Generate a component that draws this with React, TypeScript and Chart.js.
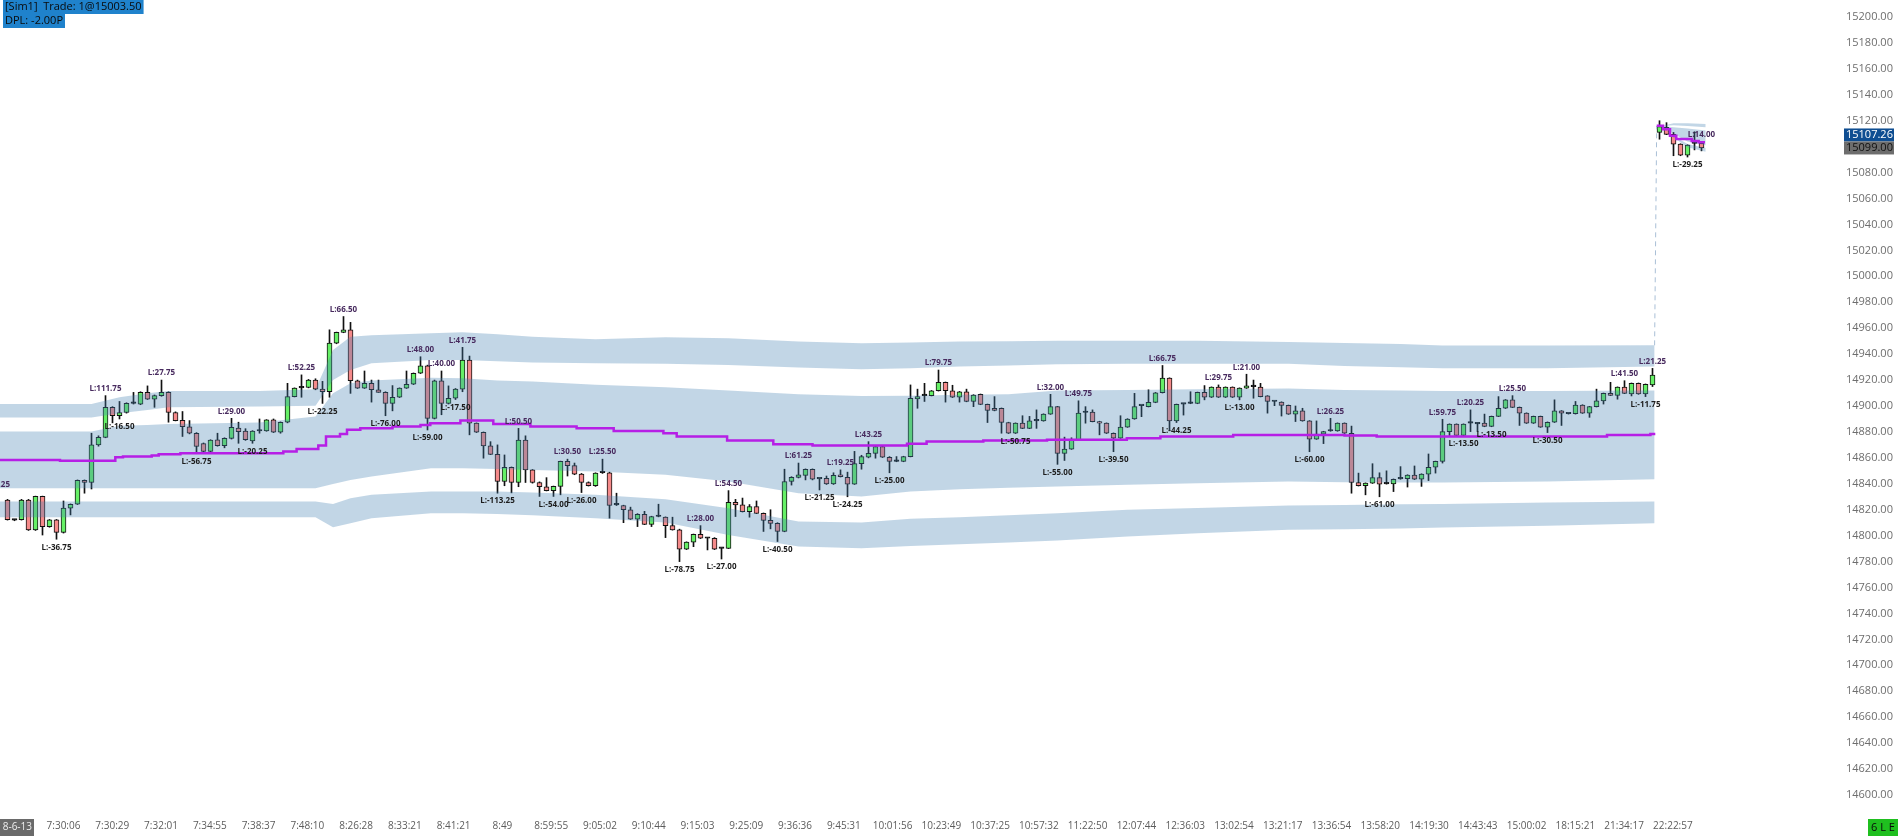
import React, { useEffect, useRef } from "react";
import { Chart, registerables } from "chart.js";
Chart.register(...registerables);

// ---------- candles (index 0..242) ----------
const OPEN = [
  14827.5, 14812, 14812.25, 14827.5, 14804.5, 14830.25, 14807, 14812.25, 14802.5, 14821.25,
  14824.25, 14842.75, 14841, 14870, 14875.75, 14899, 14892.5, 14895, 14902, 14901.5,
  14910.5, 14905.25, 14908, 14910.5, 14895, 14889, 14884, 14879, 14871, 14865,
  14874, 14869.5, 14875, 14883, 14880.75, 14873, 14880.75, 14880.75, 14889.25, 14879.75,
  14887.5, 14907.25, 14914, 14914.25, 14920, 14913, 14911, 14948.5, 14956.75, 14958.75,
  14919.5, 14913.75, 14917.5, 14912.5, 14910.5, 14902, 14906.75, 14913.75, 14916.75, 14925.25,
  14931, 14890.5, 14919.5, 14902, 14906, 14913, 14935.5, 14886.75, 14879.75, 14869.25,
  14862.75, 14841.75, 14852.75, 14841, 14873.75, 14850.75, 14841, 14837.75, 14834.75, 14838,
  14857.25, 14854, 14847.5, 14841, 14838.5, 14848.5, 14848.5, 14823.75, 14823.25, 14820,
  14812.75, 14816.5, 14808.75, 14814.75, 14814.25, 14807.75, 14804.5, 14789.5, 14795, 14801,
  14798, 14798, 14790.25, 14790.25, 14825.75, 14823.75, 14818.5, 14822.5, 14817.25, 14811.75,
  14809.5, 14803.25, 14841.75, 14845, 14846.5, 14851.25, 14843.75, 14844.25, 14840, 14847,
  14845, 14839.75, 14855.5, 14860.5, 14863.5, 14868.75, 14860.5, 14857.25, 14857.25, 14861,
  14905.5, 14908, 14908, 14911.75, 14918.25, 14911.75, 14906.75, 14911, 14903.5, 14909,
  14901.25, 14898.25, 14898.25, 14887.25, 14879, 14886.75, 14882.75, 14888.5, 14888.5, 14893.75,
  14899.5, 14863.5, 14866.75, 14873.75, 14895, 14895.25, 14888, 14886.75, 14879, 14875.25,
  14883.75, 14890, 14900.25, 14899.5, 14902.75, 14910.25, 14921.5, 14888.5, 14901.5, 14902,
  14902, 14910.5, 14906.75, 14914.5, 14906.75, 14914.5, 14906.75, 14913.75, 14915, 14914.5,
  14907.75, 14903.5, 14903, 14900.5, 14893.75, 14896.25, 14888.5, 14874.5, 14878.25, 14880.75,
  14880.75, 14886.75, 14879, 14841, 14838.5, 14840.5, 14844.75, 14840, 14840, 14843.75,
  14844, 14846.75, 14843.5, 14847.5, 14852.75, 14857.25, 14880.25, 14886, 14877.25, 14886.75,
  14886.25, 14886.75, 14884.25, 14892, 14898.25, 14904.75, 14899, 14894.5, 14886.75, 14892,
  14883.75, 14887.5, 14896.25, 14894, 14894, 14900.75, 14894.5, 14899.5, 14904, 14909.75,
  14908.25, 14914.5, 14909.25, 14917.5, 14909.25, 14916.25, 15111, 15115, 15109.5, 15102,
  15093.5, 15102.5, 15102.5,
];
const HIGH = [
  14828, 14812.5, 14828, 14828, 14830.5, 14830.5, 14812.5, 14812.5, 14826.75, 14824.5,
  14843, 14843, 14879, 14877, 14908, 14899.5, 14903.5, 14902.5, 14910.5, 14911,
  14915.5, 14908.5, 14920, 14911, 14895.5, 14895.75, 14888.75, 14879.5, 14871.5, 14874,
  14879, 14875.5, 14890.5, 14887.5, 14882.5, 14881, 14890, 14889.5, 14890, 14887.75,
  14917.5, 14914, 14924, 14920.5, 14921, 14919, 14958.75, 14957, 14969, 14964.5,
  14920, 14927, 14920, 14920, 14911, 14915.75, 14914, 14927, 14925.5, 14938,
  14931.5, 14920, 14927, 14915.5, 14913.5, 14945.25, 14938.5, 14887, 14880, 14872.5,
  14870, 14862.25, 14853, 14882.75, 14877, 14851, 14841.5, 14844.75, 14838.25, 14857.5,
  14859, 14856, 14848, 14841.5, 14848.5, 14859, 14849, 14832.75, 14823.5, 14822,
  14817, 14818.75, 14815, 14824.25, 14814.5, 14814.25, 14805, 14795.25, 14801.25, 14807.75,
  14798.5, 14798.5, 14790.5, 14834.75, 14828, 14829, 14824, 14826.75, 14817.5, 14820,
  14810, 14851.25, 14845.5, 14856, 14851.5, 14851.5, 14844, 14846, 14848.5, 14850.75,
  14849, 14865, 14862, 14872.5, 14869, 14869, 14861, 14861, 14861.25, 14916.25,
  14913, 14917.5, 14912, 14927.75, 14918.5, 14916, 14911.25, 14913, 14908.75, 14909.25,
  14901.5, 14907.25, 14898.5, 14887.5, 14887, 14892.5, 14892, 14897, 14894, 14909,
  14899.75, 14876, 14875.5, 14904, 14899.5, 14897, 14888.25, 14887, 14879.25, 14892.5,
  14890.25, 14909.75, 14900.5, 14912.5, 14910.5, 14931.25, 14921.75, 14901.5, 14901.75, 14911,
  14910.75, 14915.75, 14914.75, 14916.25, 14914.75, 14914.75, 14914, 14924.5, 14920, 14917.5,
  14908, 14903.75, 14903.25, 14900.75, 14900, 14898.25, 14888.75, 14888.5, 14880.5, 14890.5,
  14887, 14887, 14884.5, 14848.25, 14840.75, 14855.5, 14848.5, 14850, 14843.75, 14853.25,
  14847, 14853.75, 14847.75, 14863, 14857.5, 14889.75, 14886.25, 14886.25, 14886.25, 14897,
  14887, 14893.75, 14892.25, 14907.25, 14905, 14908, 14899.25, 14894.75, 14892.25, 14892.25,
  14887.75, 14904.75, 14896.5, 14894.25, 14903.5, 14901, 14899.75, 14913, 14910, 14918.25,
  14914.75, 14919.5, 14917.75, 14917.75, 14917, 14929, 15120, 15118.5, 15111, 15102.25,
  15101.5, 15111.5, 15103.5,
];
const LOW = [
  14812, 14811.5, 14812, 14804, 14804, 14800.5, 14806.5, 14797.25, 14802, 14816,
  14824, 14832.75, 14836, 14869, 14875.5, 14887, 14890, 14894.5, 14901.5, 14901,
  14905, 14899, 14907.5, 14887.5, 14888.5, 14876.5, 14878.5, 14863.5, 14864.5, 14864.5,
  14869, 14867.75, 14874.5, 14871.25, 14873.5, 14871.25, 14879, 14880.5, 14879.5, 14879,
  14887, 14907, 14906.75, 14914, 14912.5, 14902, 14906.75, 14948, 14956.5, 14909.75,
  14913.5, 14913.5, 14903, 14910.5, 14892.5, 14896.25, 14906.5, 14913.5, 14916.5, 14925,
  14881.5, 14890, 14893.25, 14901.5, 14905, 14911, 14877.75, 14879.5, 14859.75, 14862.5,
  14832.75, 14838.5, 14833, 14837.75, 14841, 14840.5, 14830.25, 14834.5, 14830.25, 14831.5,
  14846, 14847, 14833.25, 14838.25, 14838, 14848, 14813.5, 14823.25, 14810, 14812.5,
  14807, 14808.5, 14807, 14814.5, 14798.5, 14804.25, 14780, 14789.25, 14791.5, 14797.75,
  14789, 14789.25, 14782, 14790, 14814.75, 14818.25, 14814.25, 14817, 14803.25, 14805.25,
  14795.5, 14803, 14839, 14844.5, 14843, 14843, 14835.25, 14839.5, 14839.5, 14845.25,
  14830, 14839.5, 14851.25, 14860, 14859.75, 14860.25, 14848.5, 14857, 14857, 14860.75,
  14898.25, 14903.5, 14907.75, 14911.5, 14903, 14906.5, 14903, 14903.25, 14899.5, 14901,
  14887.25, 14896.25, 14879, 14878.75, 14878.75, 14882.5, 14882.5, 14882.75, 14888.25, 14893.5,
  14855, 14858, 14866.5, 14873.5, 14886.75, 14887.75, 14877.75, 14878.75, 14864.75, 14875,
  14883.5, 14889.75, 14891.75, 14899.25, 14902.5, 14910, 14881.5, 14887.25, 14893, 14901.75,
  14901.75, 14904.75, 14906.5, 14906.5, 14906.5, 14906.5, 14904.75, 14913.5, 14906, 14907,
  14894.5, 14900.25, 14892.25, 14893.5, 14888, 14888.25, 14864.75, 14874.25, 14871, 14880.5,
  14880.5, 14878.75, 14832.75, 14838.25, 14831.5, 14840.25, 14830, 14839.75, 14834, 14843.5,
  14837.5, 14843.25, 14838, 14842.5, 14848.25, 14856, 14877, 14877, 14877, 14880.25,
  14880.25, 14884, 14884, 14891.75, 14898, 14898.75, 14885, 14886.5, 14886.5, 14883.5,
  14879.5, 14887.25, 14885, 14893.75, 14893.75, 14894.25, 14891.25, 14899.25, 14901.5, 14908,
  14905.25, 14909.5, 14907.75, 14909, 14907.25, 14915, 15105.75, 15109.25, 15093, 15093,
  15092, 15097.5, 15096.75,
];
const CLOSE = [
  14812.25, 14812, 14827.5, 14804.5, 14830.25, 14807, 14812.25, 14802.5, 14821.25, 14824.25,
  14842.75, 14841, 14870, 14875.75, 14899, 14892.5, 14895, 14902, 14902, 14910.5,
  14905.25, 14908, 14910.5, 14895, 14888.75, 14884, 14879, 14868.75, 14865, 14873.75,
  14869.5, 14875, 14883.5, 14880.25, 14874, 14880.75, 14880.75, 14889.25, 14879.75, 14887.5,
  14907.25, 14913.75, 14914, 14920, 14913, 14911, 14948.5, 14956.75, 14958.75, 14919.5,
  14913.75, 14917.5, 14912.5, 14910.5, 14902, 14906.75, 14913.75, 14916.75, 14925.25, 14931,
  14890.5, 14919.5, 14902, 14906, 14913, 14935.5, 14886.75, 14879.75, 14869.25, 14862.75,
  14841.75, 14852.75, 14841, 14873.75, 14850.75, 14841, 14837.75, 14834.75, 14838, 14857.25,
  14854, 14847.5, 14841, 14838.5, 14848.25, 14848.5, 14823.25, 14823.75, 14820, 14812.75,
  14816.5, 14808.75, 14814.75, 14814.75, 14807.75, 14804.5, 14789.5, 14795, 14801, 14798,
  14798, 14789.5, 14790.25, 14825.75, 14823.75, 14818.5, 14822.5, 14817.25, 14811.75, 14809.5,
  14803.25, 14841.75, 14845, 14847, 14851.25, 14843.5, 14843.75, 14840, 14846.5, 14845.5,
  14839.75, 14855.5, 14861, 14863.5, 14868.75, 14860.5, 14857.25, 14857.25, 14861, 14906,
  14907.25, 14908, 14911.75, 14918.25, 14911.75, 14906.75, 14911, 14903.5, 14908.5, 14901.25,
  14896.5, 14896.5, 14887.25, 14879, 14886.75, 14882.75, 14888.5, 14888.5, 14893.75, 14899.5,
  14863.5, 14866.75, 14873.75, 14894.5, 14895, 14888, 14886.75, 14879, 14875.25, 14883.75,
  14890, 14899.5, 14900.25, 14902.75, 14910.25, 14921.5, 14888.5, 14901.25, 14901.5, 14902,
  14910.5, 14906.75, 14914.5, 14906.75, 14914.5, 14906.75, 14913.75, 14915.5, 14915, 14907.25,
  14903.5, 14903.5, 14900.5, 14893.75, 14896.25, 14888.5, 14874.5, 14878.25, 14880.25, 14880.75,
  14886.75, 14879, 14841, 14838.5, 14840.5, 14844.75, 14839.75, 14840, 14843.5, 14843.75,
  14846.75, 14843.5, 14847.5, 14852.75, 14857.25, 14880.25, 14886, 14877.25, 14886, 14886.75,
  14886.25, 14884.25, 14892, 14898.25, 14904.75, 14899, 14894.5, 14886.75, 14892, 14883.75,
  14887.5, 14896.25, 14894.5, 14894, 14900.75, 14894.5, 14899.5, 14904, 14909.75, 14908.25,
  14914.5, 14909.75, 14917.5, 14909.25, 14916.75, 14923.75, 15115.5, 15109.5, 15102, 15093.5,
  15101.25, 15102.5, 15099,
];

// ---------- channel bands ----------
const BAND_X = [-1.1, 12, 16, 20, 23, 36, 44, 46.5, 49, 52, 60.5, 65, 70, 75, 84, 94, 103, 113, 122, 129, 136, 143, 150, 160, 170, 183, 191, 199, 205, 220, 235.3];
const UPPER_TOP = [14901.6, 14901.6, 14906.8, 14909.8, 14911.6, 14911.6, 14912.9, 14943.2, 14953.5, 14954.6, 14956.1, 14956.9, 14955.3, 14953.5, 14951.5, 14953.0, 14952.2, 14949.7, 14948.4, 14948.9, 14949.7, 14949.9, 14950.4, 14950.4, 14950.4, 14949.4, 14948.6, 14947.9, 14946.6, 14946.6, 14946.8];
const UPPER_BOT = [14891.1, 14891.1, 14894.4, 14897.0, 14899.0, 14899.6, 14900.1, 14920.1, 14927.8, 14933.0, 14935.5, 14935.5, 14934.5, 14933.5, 14933.0, 14932.5, 14931.7, 14929.6, 14928.3, 14929.1, 14930.4, 14931.2, 14932.2, 14932.5, 14932.5, 14932.5, 14930.9, 14929.9, 14929.1, 14929.1, 14930.4];
const MID_TOP = [14880.3, 14880.3, 14884.7, 14885.4, 14886.2, 14887.2, 14891.9, 14909.8, 14917.5, 14919.6, 14921.7, 14921.4, 14919.6, 14918.8, 14916.3, 14914.5, 14911.9, 14909.1, 14907.8, 14908.0, 14908.6, 14909.1, 14911.9, 14912.4, 14912.9, 14913.4, 14912.4, 14911.9, 14911.6, 14911.6, 14911.9];
const MID_BOT = [14836.6, 14836.6, 14836.6, 14836.6, 14836.6, 14836.6, 14836.6, 14839.9, 14843.0, 14845.6, 14852.0, 14852.0, 14851.5, 14850.7, 14849.4, 14846.9, 14841.7, 14832.7, 14830.2, 14834.0, 14835.8, 14836.9, 14837.9, 14839.2, 14840.5, 14841.7, 14841.2, 14841.0, 14841.0, 14841.7, 14843.5];
const LOWER_TOP = [14826.3, 14826.3, 14826.3, 14826.3, 14826.3, 14826.3, 14826.3, 14824.5, 14828.9, 14831.5, 14834.0, 14834.0, 14834.0, 14833.3, 14831.5, 14828.1, 14821.2, 14810.9, 14810.1, 14813.0, 14814.2, 14815.8, 14817.3, 14819.9, 14821.4, 14823.2, 14823.7, 14824.3, 14824.5, 14825.5, 14826.3];
const LOWER_BOT = [14814.2, 14814.2, 14814.2, 14814.2, 14814.2, 14814.2, 14814.2, 14806.5, 14809.6, 14813.5, 14817.3, 14817.3, 14816.8, 14815.8, 14813.5, 14810.1, 14800.6, 14791.6, 14790.3, 14792.1, 14793.4, 14794.7, 14796.2, 14799.3, 14801.9, 14804.5, 14805.0, 14805.5, 14806.3, 14807.6, 14809.6];

const TAIL_X = [236.3, 238, 240, 242.6];
const TAIL_UPPER_TOP = [15116, 15118, 15118, 15117.5];
const TAIL_UPPER_BOT = [15116, 15116.5, 15116, 15115];
const TAIL_MID_TOP = [15116, 15115, 15114, 15112.5];
const TAIL_MID_BOT = [15116, 15110, 15104, 15101];
const TAIL_LOWER_TOP = [15116, 15108.5, 15102, 15099];
const TAIL_LOWER_BOT = [15116, 15107, 15099.5, 15096];

const JUMP_X = [235.3, 235.6];
const JUMP_Y = [14946.8, 15116];

// ---------- VWAP (magenta) ----------
const VWAP_X = [-1.1, 7.5, 15.4, 16.5, 20.6, 21.6, 24.7, 39.4, 41.3, 44.4, 45.5, 47.5, 48.5, 50.4, 55, 59, 60.4, 64.7, 69.4, 74.7, 81.3, 86.6, 93.7, 95.6, 102.8, 109.4, 115, 128.5, 131.3, 139.4, 148.5, 159.9, 164.7, 175.1, 191, 195.6, 228.5, 234.7, 235.4];
const VWAP_Y = [14858.4, 14857.7, 14860.5, 14861.0, 14861.8, 14862.8, 14863.6, 14864.9, 14866.9, 14869.5, 14876.4, 14878.5, 14881.6, 14882.9, 14884.1, 14885.4, 14886.7, 14888.8, 14886.2, 14884.1, 14882.9, 14880.8, 14879.0, 14876.4, 14873.3, 14870.5, 14869.5, 14870.8, 14872.6, 14873.3, 14873.9, 14875.1, 14876.4, 14877.7, 14877.2, 14876.4, 14877.7, 14878.5, 14878.5];
const TAIL_VWAP_X = [235.6, 236.5, 237.5, 238.4, 240.6, 241.6, 242.5];
const TAIL_VWAP_Y = [15116.2, 15113.4, 15108.5, 15105.9, 15104.4, 15103.4, 15103.4];

// ---------- trade labels ----------
const TOP_LABELS: [number, string][] = [
  [14, "L:111.75"], [22, "L:27.75"], [32, "L:29.00"], [42, "L:52.25"], [48, "L:66.50"], [59, "L:48.00"],
  [62, "L:40.00"], [65, "L:41.75"], [73, "L:50.50"], [80, "L:30.50"], [85, "L:25.50"], [99, "L:28.00"],
  [103, "L:54.50"], [113, "L:61.25"], [119, "L:19.25"], [123, "L:43.25"], [133, "L:79.75"], [149, "L:32.00"],
  [153, "L:49.75"], [165, "L:66.75"], [173, "L:29.75"], [177, "L:21.00"], [189, "L:26.25"], [205, "L:59.75"],
  [209, "L:20.25"], [215, "L:25.50"], [231, "L:41.50"], [235, "L:21.25"], [242, "L:14.00"],
];
const BOTTOM_LABELS: [number, string][] = [
  [7, "L:-36.75"], [16, "L:-16.50"], [27, "L:-56.75"], [35, "L:-20.25"], [45, "L:-22.25"], [54, "L:-76.00"],
  [60, "L:-59.00"], [64, "L:-17.50"], [70, "L:-113.25"], [78, "L:-54.00"], [82, "L:-26.00"], [96, "L:-78.75"],
  [102, "L:-27.00"], [110, "L:-40.50"], [116, "L:-21.25"], [120, "L:-24.25"], [126, "L:-25.00"], [144, "L:-50.75"],
  [150, "L:-55.00"], [158, "L:-39.50"], [167, "L:-44.25"], [176, "L:-13.00"], [186, "L:-60.00"], [196, "L:-61.00"],
  [208, "L:-13.50"], [212, "L:-13.50"], [220, "L:-30.50"], [234, "L:-11.75"], [240, "L:-29.25"],
];
const EDGE_LABEL = { x: -1.6, price: 14834, text: "L:31.25" };

// ---------- axes ----------
const TIME_LABELS = ["7:30:06", "7:30:29", "7:32:01", "7:34:55", "7:38:37", "7:48:10", "8:26:28", "8:33:21", "8:41:21", "8:49", "8:59:55", "9:05:02", "9:10:44", "9:15:03", "9:25:09", "9:36:36", "9:45:31", "10:01:56", "10:23:49", "10:37:25", "10:57:32", "11:22:50", "12:07:44", "12:36:03", "13:02:54", "13:21:17", "13:36:54", "13:58:20", "14:19:30", "14:43:43", "15:00:02", "18:15:21", "21:34:17", "22:22:57"];
const TIME_TICK_START = 8;
const TIME_TICK_STEP = 6.967;
const DATE_LABEL = "8-6-13";
const Y_TICKS: number[] = [];
for (let v = 14600; v <= 15200; v += 20) Y_TICKS.push(v);

const TRADE_TEXT = "[Sim1]  Trade: 1@15003.50";
const DPL_TEXT = "DPL: -2.00P";
const PLOT_VALUE = 15107.26;
const LAST_PRICE = 15099.0;
const STATUS_TEXT = "6 L E";

const X_MIN = -1.0714;
const X_MAX = 262.214;
const Y_MAX = 15213.11;
const Y_MIN = 14586.89;

const GREEN = "#66f066";
const RED = "#f58a8a";
const BAND_FILL = "rgba(70,130,180,0.33)";
const FONT = '"Open Sans", "DejaVu Sans", sans-serif';

function bandLine(main: number[], tail: number[]) {
  return [
    ...BAND_X.map((x, k) => ({ x, y: main[k] })),
    { x: 235.5, y: null },
    ...TAIL_X.map((x, k) => ({ x, y: tail[k] })),
  ];
}

function bandPair(top: number[], topT: number[], bot: number[], botT: number[]) {
  return [
    { type: "line", data: bandLine(top, topT), borderColor: "rgba(0,0,0,0)", borderWidth: 0, pointRadius: 0, fill: false, order: 5 },
    { type: "line", data: bandLine(bot, botT), borderColor: "rgba(0,0,0,0)", borderWidth: 0, pointRadius: 0, fill: "-1", backgroundColor: BAND_FILL, order: 5 },
  ];
}

const overlayPlugin = {
  id: "overlay",
  afterDatasetsDraw(chart: any) {
    const { ctx, chartArea, scales } = chart;
    const x = scales.x, y = scales.y;
    ctx.save();
    ctx.beginPath();
    ctx.rect(chartArea.left, chartArea.top, chartArea.right - chartArea.left, chartArea.bottom - chartArea.top);
    ctx.clip();
    ctx.font = `bold 8px ${FONT}`;
    ctx.textAlign = "center";
    ctx.textBaseline = "middle";
    ctx.fillStyle = "#472a5e";
    TOP_LABELS.forEach(([i, t]) => {
      ctx.fillText(t, x.getPixelForValue(i), y.getPixelForValue(HIGH[i]) - 7);
    });
    ctx.fillText(EDGE_LABEL.text, x.getPixelForValue(EDGE_LABEL.x), y.getPixelForValue(EDGE_LABEL.price) - 7);
    ctx.fillStyle = "#1c1c1c";
    BOTTOM_LABELS.forEach(([i, t]) => {
      ctx.fillText(t, x.getPixelForValue(i), y.getPixelForValue(LOW[i]) + 8);
    });
    ctx.restore();
  },
  afterDraw(chart: any) {
    const { ctx, chartArea, scales, width, height } = chart;
    const y = scales.y;
    ctx.save();
    // top-left info
    ctx.font = `11px ${FONT}`;
    ctx.textBaseline = "middle";
    ctx.textAlign = "left";
    const w1 = ctx.measureText(TRADE_TEXT).width;
    const w2 = ctx.measureText(DPL_TEXT).width;
    ctx.fillStyle = "#1f82cc";
    ctx.fillRect(3, 0, w1 + 4, 14);
    ctx.fillRect(3, 14, w2 + 4, 14);
    ctx.fillStyle = "#0a0a0a";
    ctx.fillText(TRADE_TEXT, 5, 7);
    ctx.fillText(DPL_TEXT, 5, 21);

    // price boxes
    const bx = chartArea.right + 1;
    const bw = width - bx - 4;
    const pyLast = y.getPixelForValue(LAST_PRICE);
    const pyPlot = Math.min(y.getPixelForValue(PLOT_VALUE), pyLast - 13);
    ctx.fillStyle = "#0f4e92";
    ctx.fillRect(bx, pyPlot - 6.5, bw, 13);
    ctx.fillStyle = "#ffffff";
    ctx.fillText(PLOT_VALUE.toFixed(2), bx + 2, pyPlot);
    ctx.fillStyle = "#6d6d6d";
    ctx.fillRect(bx, pyLast - 6.5, bw, 13);
    ctx.fillStyle = "#101010";
    ctx.fillText(LAST_PRICE.toFixed(2), bx + 2, pyLast);

    // date box bottom-left
    ctx.fillStyle = "#6a6a6a";
    ctx.fillRect(0, height - 17, 34, 17);
    ctx.fillStyle = "#eeeeee";
    ctx.font = `10px ${FONT}`;
    ctx.textAlign = "right";
    ctx.fillText(DATE_LABEL, 32, height - 8.5);

    // status box bottom-right
    ctx.fillStyle = "#1fbf1f";
    ctx.fillRect(width - 30, height - 17, 30, 17);
    ctx.fillStyle = "#0a0a0a";
    ctx.font = `11px ${FONT}`;
    ctx.textAlign = "center";
    ctx.fillText(STATUS_TEXT, width - 15, height - 8.5);
    ctx.restore();
  },
};

export default function App() {
  const ref = useRef<HTMLCanvasElement>(null);
  useEffect(() => {
    document.body.style.margin = "0";
    const idx = OPEN.map((_, i) => i);
    const wickData = idx.map((i) => ({ x: i, y: [LOW[i], HIGH[i]] }));
    const bodyData = idx.map((i) => ({ x: i, y: [OPEN[i], CLOSE[i]] }));
    const bodyColors = idx.map((i) => (CLOSE[i] > OPEN[i] ? GREEN : CLOSE[i] < OPEN[i] ? RED : "#111111"));

    const datasets: any[] = [
      { type: "bar", data: wickData, backgroundColor: "#111111", borderWidth: 0, barThickness: 1, grouped: false, order: 10 },
      {
        type: "bar", data: bodyData, backgroundColor: bodyColors, borderColor: "#111111", borderWidth: 1,
        borderSkipped: false, barThickness: 5, minBarLength: 1.5, grouped: false, order: 9,
      },
      ...bandPair(UPPER_TOP, TAIL_UPPER_TOP, UPPER_BOT, TAIL_UPPER_BOT),
      ...bandPair(MID_TOP, TAIL_MID_TOP, MID_BOT, TAIL_MID_BOT),
      ...bandPair(LOWER_TOP, TAIL_LOWER_TOP, LOWER_BOT, TAIL_LOWER_BOT),
      {
        type: "line", data: JUMP_X.map((x, k) => ({ x, y: JUMP_Y[k] })), borderColor: "#a9bfd6",
        borderWidth: 1, borderDash: [5, 4], pointRadius: 0, fill: false, order: 4,
      },
      {
        type: "line",
        data: [
          ...VWAP_X.map((x, k) => ({ x, y: VWAP_Y[k] })),
          { x: 235.5, y: null },
          ...TAIL_VWAP_X.map((x, k) => ({ x, y: TAIL_VWAP_Y[k] })),
        ],
        borderColor: "#b61fe6", borderWidth: 2.5, pointRadius: 0, fill: false, stepped: true, order: 1,
      },
    ];

    const chart = new Chart(ref.current as HTMLCanvasElement, {
      type: "bar",
      data: { datasets },
      options: {
        animation: false,
        responsive: false,
        maintainAspectRatio: false,
        events: [],
        layout: { padding: 0 },
        plugins: { legend: { display: false }, tooltip: { enabled: false } },
        scales: {
          x: {
            type: "linear",
            min: X_MIN,
            max: X_MAX,
            offset: false,
            grid: { display: false, drawTicks: false },
            border: { display: false },
            ticks: {
              autoSkip: false,
              maxRotation: 0,
              minRotation: 0,
              padding: 8,
              color: "#5c5c5c",
              font: { family: FONT, size: 10 },
              callback: (_v: any, index: number) => TIME_LABELS[index] ?? "",
            },
            afterBuildTicks: (s: any) => {
              s.ticks = TIME_LABELS.map((_, k) => ({ value: TIME_TICK_START + TIME_TICK_STEP * k }));
            },
            afterFit: (s: any) => {
              s.height = 24;
              s.paddingLeft = 0;
              s.paddingRight = 0;
            },
          },
          y: {
            type: "linear",
            position: "right",
            min: Y_MIN,
            max: Y_MAX,
            grid: { display: false, drawTicks: false },
            border: { display: false },
            ticks: {
              autoSkip: false,
              padding: 3,
              color: "#6e6e6e",
              font: { family: FONT, size: 11 },
              callback: (v: any) => Number(v).toFixed(2),
            },
            afterBuildTicks: (s: any) => {
              s.ticks = Y_TICKS.map((v) => ({ value: v }));
            },
            afterFit: (s: any) => {
              s.width = 55;
              s.paddingTop = 0;
              s.paddingBottom = 0;
            },
          },
        },
      } as any,
      plugins: [overlayPlugin],
    } as any);
    return () => chart.destroy();
  }, []);
  return (
    <div style={{ width: 1898, height: 836, position: "relative", overflow: "hidden", background: "#fff" }}>
      <canvas ref={ref} width={1898} height={836} style={{ display: "block", width: 1898, height: 836 }} />
    </div>
  );
}
